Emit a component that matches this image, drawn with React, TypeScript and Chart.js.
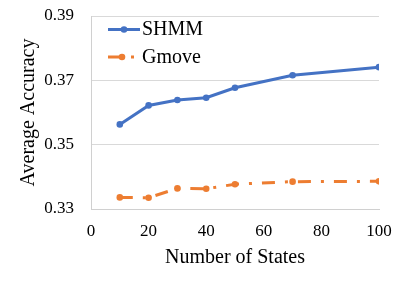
import React, { useEffect, useRef } from "react";
import { Chart, registerables } from "chart.js";

Chart.register(...registerables);

const numStates = [10, 20, 30, 40, 50, 70, 100];
const shmmValues = [0.3563, 0.3622, 0.3639, 0.3646, 0.3677, 0.3716, 0.3741];
const gmoveValues = [0.3336, 0.3335, 0.3364, 0.3363, 0.3377, 0.3385, 0.3386];
const seriesNames = ["SHMM", "Gmove"];
const xTitle = "Number of States";
const yTitle = "Average Accuracy";

const BLUE = "#4472C4";
const ORANGE = "#ED7D31";
const FONT = "'Liberation Serif', 'Times New Roman', serif";
const GMOVE_DASH = [13, 10, 3, 10];

const legendPlugin = {
  id: "insideLegend",
  afterDraw(chart: any) {
    const ctx = chart.ctx;
    const items = [
      { name: seriesNames[0], color: BLUE, dash: [] as number[], y: 29.5 },
      { name: seriesNames[1], color: ORANGE, dash: GMOVE_DASH, y: 57 },
    ];
    ctx.save();
    items.forEach((it) => {
      const x0 = 108;
      const x1 = 140;
      ctx.strokeStyle = it.color;
      ctx.lineWidth = 3;
      ctx.setLineDash(it.dash);
      ctx.beginPath();
      ctx.moveTo(x0, it.y);
      ctx.lineTo(x1, it.y);
      ctx.stroke();
      ctx.setLineDash([]);
      ctx.fillStyle = it.color;
      ctx.beginPath();
      ctx.arc(it.dash.length ? 122 : 124, it.y, 3.3, 0, Math.PI * 2);
      ctx.fill();
      ctx.fillStyle = "#000";
      ctx.font = `20px ${FONT}`;
      ctx.textBaseline = "middle";
      ctx.textAlign = "left";
      ctx.fillText(it.name, 142, it.y + 0.5);
    });
    ctx.restore();
  },
};

export default function App() {
  const ref = useRef<HTMLCanvasElement>(null);
  useEffect(() => {
    document.body.style.margin = "0";
    const canvas = ref.current!;
    const chart = new Chart(canvas, {
      type: "line",
      data: {
        datasets: [
          {
            label: seriesNames[0],
            data: numStates.map((x, i) => ({ x, y: shmmValues[i] })),
            borderColor: BLUE,
            backgroundColor: BLUE,
            borderWidth: 3,
            pointRadius: 3.3,
            pointBorderWidth: 0,
            pointBackgroundColor: BLUE,
            tension: 0,
          },
          {
            label: seriesNames[1],
            data: numStates.map((x, i) => ({ x, y: gmoveValues[i] })),
            borderColor: ORANGE,
            backgroundColor: ORANGE,
            borderWidth: 3,
            borderDash: GMOVE_DASH,
            pointRadius: 3.3,
            pointBorderWidth: 0,
            pointBackgroundColor: ORANGE,
            tension: 0,
          },
        ],
      },
      options: {
        animation: false,
        responsive: false,
        devicePixelRatio: 1,
        layout: { padding: { top: 16, right: 28, left: 0, bottom: 0 } },
        plugins: {
          legend: { display: false },
          tooltip: { enabled: false },
        },
        scales: {
          x: {
            type: "linear",
            min: 0,
            max: 100,
            ticks: {
              stepSize: 20,
              padding: 12,
              color: "#000",
              font: { family: FONT, size: 17 },
              maxRotation: 0,
            },
            grid: { display: false, drawTicks: false },
            border: { display: true, color: "#D0D0D0", width: 1 },
            title: {
              display: true,
              text: xTitle,
              color: "#000",
              font: { family: FONT, size: 20 },
              padding: { top: 0, bottom: 15 },
            },
            afterFit: (s: any) => {
              s.height = 76;
            },
          },
          y: {
            type: "linear",
            min: 0.33,
            max: 0.39,
            ticks: {
              stepSize: 0.02,
              padding: 17,
              color: "#000",
              font: { family: FONT, size: 17 },
              callback: (v: any) => Number(v).toFixed(2),
            },
            grid: { color: "#D9D9D9", lineWidth: 1, drawTicks: false },
            border: { display: true, color: "#D0D0D0", width: 1 },
            title: {
              display: true,
              text: yTitle,
              color: "#000",
              font: { family: FONT, size: 20 },
              padding: { top: 17, bottom: 0 },
            },
            afterFit: (s: any) => {
              s.width = 91;
              s.paddingTop = 0;
              s.paddingBottom = 0;
            },
          },
        },
      },
      plugins: [legendPlugin],
    });
    return () => chart.destroy();
  }, []);
  return (
    <div style={{ width: 407, height: 285 }}>
      <canvas ref={ref} width={407} height={285} />
    </div>
  );
}
